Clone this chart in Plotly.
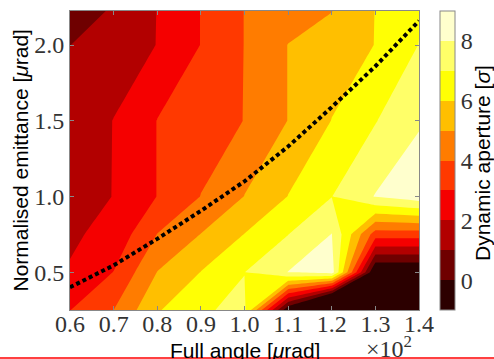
import plotly.graph_objects as go

# Full angle [µrad] (grid columns) and normalised emittance [µrad] (grid rows)
angle = [60, 70, 80, 90, 100, 110, 120, 130, 140]
emittance = [0.25, 0.5, 0.75, 1.0, 1.5, 2.0, 2.25]

# Dynamic aperture [sigma], one row per emittance value
da_e025 = [2.98, 4.0, 5.9, 6.9, 7.2, -0.9, -6.7, -3.0, -3.0]
da_e050 = [2.08, 3.02, 5.02, 6.02, 6.98, 8.02, 8.5, -1.2, -1.2]
da_e075 = [1.85, 2.3, 4.02, 5.02, 6.02, 6.98, 8.02, 3.5, 3.5]
da_e100 = [1.6, 2.02, 3.02, 4.02, 5.02, 6.02, 6.98, 8.05, 8.6]
da_e150 = [1.4, 2.02, 3.02, 3.5, 4.02, 5.02, 6.02, 6.95, 7.9]
da_e200 = [0.99, 1.5, 2.02, 3.02, 4.02, 5.02, 5.5, 6.02, 7.02]
da_e225 = [0.5, 1.05, 2.02, 3.02, 4.02, 4.5, 4.92, 6.02, 6.9]
da = [da_e025, da_e050, da_e075, da_e100, da_e150, da_e200, da_e225]

# dotted reference curve
curve_angle = [60, 70, 80, 90, 100, 110, 120, 130, 140]
curve_emit = [0.40, 0.545, 0.72, 0.905, 1.10, 1.33, 1.59, 1.86, 2.16]

x_ticks = [60, 70, 80, 90, 100, 110, 120, 130, 140]
x_ticktext = ["0.6", "0.7", "0.8", "0.9", "1.0", "1.1", "1.2", "1.3", "1.4"]
y_ticks = [0.5, 1.0, 1.5, 2.0]
y_ticktext = ["0.5", "1.0", "1.5", "2.0"]
cb_ticks = [0, 2, 4, 6, 8]

band_colors = ["rgb(44,0,0)", "rgb(111,0,0)", "rgb(178,0,0)", "rgb(245,0,0)",
               "rgb(255,57,0)", "rgb(255,124,0)", "rgb(255,191,0)",
               "rgb(255,255,4)", "rgb(255,255,104)", "rgb(255,255,205)"]
colorscale = []
for k, c in enumerate(band_colors):
    colorscale.append([k / 10, c])
    colorscale.append([(k + 1) / 10, c])

serif = "Liberation Serif"
sans = "Liberation Sans"

fig = go.Figure()
fig.add_trace(go.Contour(
    x=angle, y=emittance, z=da,
    colorscale=colorscale, zmin=-1, zmax=9, zauto=False,
    contours=dict(start=-1, end=9, size=1, coloring="fill", showlines=False),
    line=dict(width=0, smoothing=0),
    colorbar=dict(
        x=(440 - 70) / 349, xanchor="left", xpad=0, ypad=0,
        y=0.5, yanchor="middle", len=1, lenmode="fraction",
        thickness=15, outlinewidth=1, outlinecolor="#888",
        tickvals=cb_ticks, ticks="",
        tickfont=dict(family=serif, size=24, color="#333"),
    ),
))
fig.add_trace(go.Scatter(
    x=curve_angle, y=curve_emit, mode="lines",
    line=dict(color="black", width=4, dash="4px,3px"),
    showlegend=False, hoverinfo="skip",
))

fig.update_layout(
    width=494, height=359,
    margin=dict(l=70, r=75, t=11, b=49),
    paper_bgcolor="white", plot_bgcolor="white",
    showlegend=False,
    xaxis=dict(range=[60, 140], tickvals=x_ticks, ticktext=x_ticktext,
               ticks="inside", ticklen=4, tickcolor="#888",
               showline=True, linecolor="#888", linewidth=1, mirror="ticks",
               showgrid=False, zeroline=False, ticklabelstandoff=-8,
               tickfont=dict(family=serif, size=24, color="#333")),
    yaxis=dict(range=[0.25, 2.225], tickvals=y_ticks, ticktext=y_ticktext,
               ticks="inside", ticklen=4, tickcolor="#888",
               showline=True, linecolor="#888", linewidth=1, mirror="ticks",
               showgrid=False, zeroline=False,
               tickfont=dict(family=serif, size=24, color="#333")),
    annotations=[
        dict(text="Full angle [<i>μ</i>rad]", xref="paper", yref="paper",
             x=0.5, y=(310 - 350) / 299, xanchor="center", yanchor="middle",
             showarrow=False, font=dict(family=sans, size=21, color="black")),
        dict(text="Normalised emittance [<i>μ</i>rad]", xref="paper", yref="paper",
             x=(20 - 70) / 349, y=0.5, xanchor="center", yanchor="middle",
             textangle=-90, showarrow=False,
             font=dict(family=sans, size=21, color="black")),
        dict(text="Dynamic aperture [<i>σ</i>]", xref="paper", yref="paper",
             x=(482 - 70) / 349, y=(310 - 163) / 299, xanchor="center", yanchor="middle",
             textangle=-90, showarrow=False,
             font=dict(family=sans, size=21, color="black")),
        dict(text="×10<sup>2</sup>", xref="paper", yref="paper",
             x=(389 - 70) / 349, y=(310 - 347) / 299, xanchor="center", yanchor="middle",
             showarrow=False, font=dict(family=serif, size=24, color="#333")),
    ],
    shapes=[
        dict(type="line", xref="paper", yref="paper",
             x0=-70 / 349, x1=(494 - 70) / 349,
             y0=(310 - 358) / 299, y1=(310 - 358) / 299,
             line=dict(color="red", width=1.5)),
    ],
)

fig.write_html("out.html")
